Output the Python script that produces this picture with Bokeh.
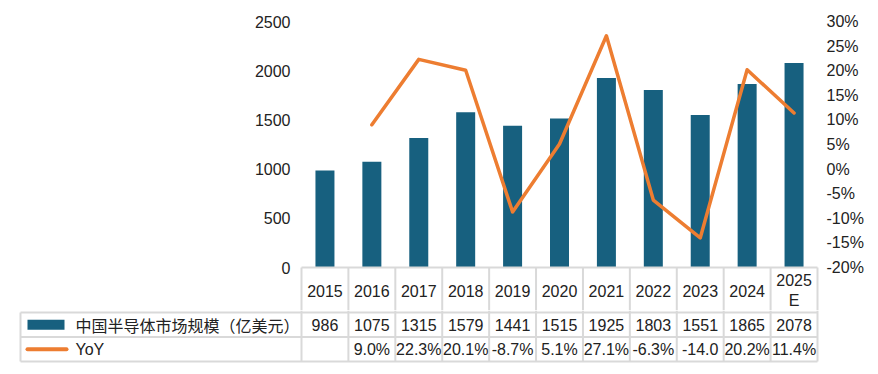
from bokeh.plotting import figure
from bokeh.models import Range1d, LinearAxis, FixedTicker, PrintfTickFormatter
from bokeh.core.properties import value
from bokeh.embed import file_html
from bokeh.resources import INLINE

# ---------------- data ----------------
years = ["2015", "2016", "2017", "2018", "2019", "2020", "2021", "2022", "2023", "2024", "2025\nE"]
market = [986, 1075, 1315, 1579, 1441, 1515, 1925, 1803, 1551, 1865, 2078]
yoy_years_idx = [1, 2, 3, 4, 5, 6, 7, 8, 9, 10]
yoy = [9.0, 22.3, 20.1, -8.7, 5.1, 27.1, -6.3, -14.0, 20.2, 11.4]
left_ticks = [0, 500, 1000, 1500, 2000, 2500]
right_ticks = [-20, -15, -10, -5, 0, 5, 10, 15, 20, 25, 30]
series_name = "中国半导体市场规模（亿美元）"
yoy_name = "YoY"

BAR = "#17607F"
ORANGE = "#ED7D31"
GRID = "#D9D9D9"
TXT = "#222222"
NUM_FONT = value("Liberation Sans")
CJK_FONT = value("Noto Sans CJK SC")
FS = "16px"

# ---------------- geometry (pixels) ----------------
n = len(years)
col_px = 516 / n                   # width of one table column
top_frame_top, zero_px, top_frame_bottom = 21, 267, 310
ypx = 2500 / (zero_px - top_frame_top)     # value units per pixel
ppx = 50 / (zero_px - top_frame_top)       # percent units per pixel
pad = 2 / col_px
x_lo, x_hi = -0.5 - pad, n - 0.5 + pad

# ---------------- top: chart + header row ----------------
y_min = -(top_frame_bottom - zero_px) * ypx
p = figure(x_range=Range1d(x_lo, x_hi), y_range=Range1d(y_min, 2500),
           frame_width=520, frame_height=top_frame_bottom - top_frame_top,
           min_border_left=299, min_border_right=51, min_border_top=21, min_border_bottom=0,
           x_axis_location=None, y_axis_location="left",
           output_backend="svg", toolbar_location=None)
p.outline_line_color = None
p.xgrid.visible = False
p.ygrid.visible = False
p.background_fill_color = "white"
p.border_fill_color = "white"

p.extra_y_ranges = {"pct": Range1d(-20 - (top_frame_bottom - zero_px) * ppx, 30)}

ax = p.yaxis[0]
ax.ticker = FixedTicker(ticks=left_ticks)
rax = LinearAxis(y_range_name="pct", ticker=FixedTicker(ticks=right_ticks),
                 formatter=PrintfTickFormatter(format="%d%%"))
p.add_layout(rax, "right")
for a, so in [(ax, 9), (rax, 7)]:
    a.axis_line_color = None
    a.major_tick_line_color = None
    a.minor_tick_line_color = None
    a.major_tick_out = 0
    a.major_tick_in = 0
    a.minor_tick_out = 0
    a.minor_tick_in = 0
    a.major_label_standoff = so
    a.major_label_text_font = "Liberation Sans"
    a.major_label_text_font_size = FS
    a.major_label_text_color = TXT

xs = list(range(n))
p.vbar(x=xs, top=market, bottom=0, width=0.405, color=BAR, line_color=None)
p.line(x=yoy_years_idx, y=yoy, y_range_name="pct", line_width=3.5, color=ORANGE,
       line_join="round", line_cap="round")

# header row grid
p.segment(x0=[-0.5], y0=[0], x1=[n - 0.5], y1=[0], line_color=GRID, line_width=2)
bx = [i - 0.5 for i in range(n + 1)]
p.segment(x0=bx, y0=[0] * len(bx), x1=bx, y1=[y_min] * len(bx), line_color=GRID, line_width=2)
hy = -((268 + 312) / 2 - zero_px) * ypx
p.text(x=xs, y=[hy] * n, text=years, text_align="center", text_baseline="middle",
       text_font=NUM_FONT, text_font_size=FS, text_color=TXT, text_line_height=1.2)

# ---------------- bottom: data table ----------------
rh = 24.5
legend_left = -0.5 - (301 - 20) / col_px
b = figure(x_range=Range1d(-0.5 - (301 - 18) / col_px, x_hi),
           y_range=Range1d(-0.5 - 2 / rh, 1.5 + 2 / rh),
           frame_width=801, frame_height=53,
           min_border_left=18, min_border_right=51, min_border_top=0, min_border_bottom=3,
           x_axis_location=None, y_axis_location=None,
           output_backend="svg", toolbar_location=None)
b.outline_line_color = None
b.xgrid.visible = False
b.ygrid.visible = False
b.background_fill_color = "white"
b.border_fill_color = "white"

hl = [1.5, 0.5, -0.5]
b.segment(x0=[legend_left] * 3, y0=hl, x1=[n - 0.5] * 3, y1=hl, line_color=GRID, line_width=2)
b.segment(x0=[legend_left], y0=[1.5], x1=[legend_left], y1=[-0.5], line_color=GRID, line_width=2)
b.segment(x0=bx, y0=[1.5 + 2 / rh] * len(bx), x1=bx, y1=[-0.5] * len(bx), line_color=GRID, line_width=2)

def px2x(px):
    return -0.5 - (301 - px) / col_px

b.rect(x=[px2x(45.5)], y=[1], width=37, height=10, width_units="screen", height_units="screen",
       color=BAR, line_color=None)
b.segment(x0=[px2x(27)], y0=[0], x1=[px2x(66)], y1=[0], line_color=ORANGE, line_width=4, line_cap="round")
b.text(x=[px2x(75)], y=[1], text=[series_name], text_baseline="middle", text_align="left",
       text_font=CJK_FONT, text_font_size="16px", text_color=TXT)
b.text(x=[px2x(75)], y=[0], text=[yoy_name], text_baseline="middle", text_align="left",
       text_font=NUM_FONT, text_font_size=FS, text_color=TXT)

b.text(x=xs, y=[1] * n, text=[str(v) for v in market], text_align="center", text_baseline="middle",
       text_font=NUM_FONT, text_font_size=FS, text_color=TXT)
yoy_txt = [f"{v:.1f}%"[:5] for v in yoy]   # cell too narrow: Excel clips long text
b.text(x=yoy_years_idx, y=[0] * len(yoy), text=yoy_txt, text_align="center", text_baseline="middle",
       text_font=NUM_FONT, text_font_size=FS, text_color=TXT)

open("out.html", "w").write(file_html([p, b], INLINE))
